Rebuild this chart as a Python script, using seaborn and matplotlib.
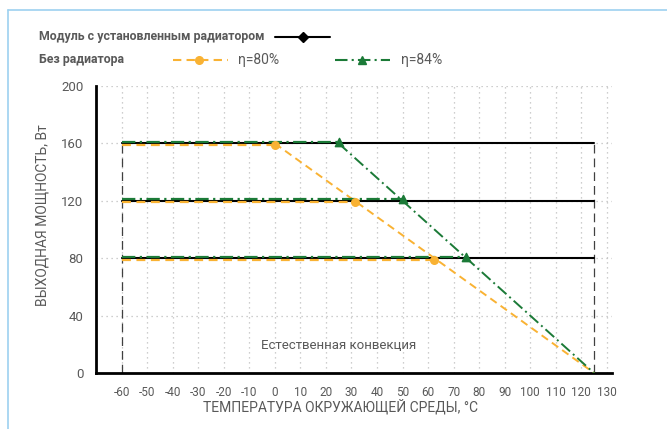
import numpy as np
import pandas as pd
import matplotlib
matplotlib.use('Agg')
import matplotlib.pyplot as plt
import matplotlib.transforms as mtransforms
from matplotlib.lines import Line2D
import seaborn as sns

# power levels, W
levels = [160, 120, 80]
t_min = -60
t_max = 125

# derating start points (temperature, power) without heatsink
eta80_knee = [0, 31.25, 62.5]
eta84_knee = [25, 50, 75]
eta80_line = {'x': [0, 125], 'y': [160, 0]}
eta84_line = {'x': [25, 125], 'y': [160, 0]}

x_ticks = list(range(-60, 131, 10))
y_ticks = [0, 40, 80, 120, 160, 200]

BLACK = '#000000'
ORANGE = '#F9B233'
GREEN = '#1B7A37'
GRAY = '#595959'
GRID = '#BFBFBF'

sns.set_style('white')
plt.rcParams['font.family'] = ['Roboto', 'DejaVu Sans']
plt.rcParams['axes.unicode_minus'] = False

fig = plt.figure(figsize=(6.67, 4.29), dpi=100)
ax = fig.add_axes([0.144, 0.1305, 0.7735, 0.669])

up = mtransforms.offset_copy(ax.transData, fig=fig, x=0, y=1.2, units='points')
down = mtransforms.offset_copy(ax.transData, fig=fig, x=0, y=-1.2, units='points')

# with heatsink
for p in levels:
    sns.lineplot(x=[t_min, t_max], y=[p, p], color=BLACK, lw=1.5, ax=ax,
                 estimator=None, sort=False, zorder=3)

# vertical dashed limits
for t in [t_min, t_max]:
    sns.lineplot(x=[t, t], y=[0, 160], color='#404040', lw=0.9, ax=ax,
                 estimator=None, sort=False, zorder=2)
    ax.lines[-1].set_dashes([7, 4])

# eta = 80%
for p, k in zip(levels, eta80_knee):
    ax.plot([t_min, k], [p, p], color=ORANGE, lw=1.6, dashes=[4, 2.5],
            transform=down, zorder=4)
ax.plot(eta80_line['x'], eta80_line['y'], color=ORANGE, lw=1.4, dashes=[4, 2.5], zorder=4)
ax.scatter(eta80_knee, levels, color=ORANGE, s=30, zorder=6, transform=down)

# eta = 84%
for p, k in zip(levels, eta84_knee):
    ax.plot([t_min, k], [p, p], color=GREEN, lw=1.6, dashes=[6, 2, 1, 2],
            transform=up, zorder=5)
ax.plot(eta84_line['x'], eta84_line['y'], color=GREEN, lw=1.4, dashes=[6, 2, 1, 2], zorder=5)
ax.scatter(eta84_knee, levels, color=GREEN, marker='^', s=36, zorder=7, transform=up)

ax.set_xlim(-70, 132)
ax.set_ylim(0, 200)
ax.set_xticks(x_ticks)
ax.set_yticks(y_ticks)
ax.grid(True, color=GRID, ls=(0, (1, 3)), lw=0.9)
ax.set_axisbelow(True)
for s in ['top', 'right']:
    ax.spines[s].set_visible(False)
for s in ['left', 'bottom']:
    ax.spines[s].set_color(BLACK)
    ax.spines[s].set_linewidth(2)
ax.tick_params(length=0, colors=GRAY, labelsize=8.5)
ax.tick_params(axis='x', pad=9)
ax.tick_params(axis='y', pad=9)
ax.tick_params(axis='y', labelsize=9.5)

ax.set_xlabel('ТЕМПЕРАТУРА ОКРУЖАЮЩЕЙ СРЕДЫ, °С', color=GRAY, fontsize=10, va='center')
ax.xaxis.set_label_coords(0.473, -0.118)
ax.set_ylabel('ВЫХОДНАЯ МОЩНОСТЬ, Вт', color=GRAY, fontsize=10, va='center')
ax.yaxis.set_label_coords(-0.103, 0.55)
ax.text(25, 19, 'Естественная конвекция', ha='center', va='center', color=GRAY, fontsize=9.5)

# legend drawn in figure pixels
W, H = 667, 429
def fx(px):
    return px / W
def fy(py):
    return 1 - py / H

fig.add_artist(Line2D([fx(8), fx(8)], [fy(10), -0.01], color='#9DD1F0', lw=1.2))
fig.add_artist(Line2D([fx(8), 1.02], [fy(10), fy(10)], color='#9DD1F0', lw=1.2))

fig.text(fx(39), fy(36.5), 'Модуль с установленным радиатором', fontsize=8.9,
         fontweight='bold', color=GRAY, va='center')
fig.text(fx(39), fy(60), 'Без радиатора', fontsize=8.9, fontweight='bold', color=GRAY, va='center')

fig.add_artist(Line2D([fx(275), fx(330)], [fy(36.5)] * 2, color=BLACK, lw=1.5))
fig.add_artist(Line2D([fx(303)], [fy(36.5)], color=BLACK, marker='D', ms=5))

fig.add_artist(Line2D([fx(173), fx(228)], [fy(60)] * 2, color=ORANGE, lw=1.5, dashes=[4, 2.5]))
fig.add_artist(Line2D([fx(199)], [fy(60)], color=ORANGE, marker='o', ms=5.5))
fig.text(fx(238), fy(60), 'η=80%', fontsize=10, color=GRAY, va='center')

fig.add_artist(Line2D([fx(335), fx(390)], [fy(60)] * 2, color=GREEN, lw=1.5, dashes=[6, 2, 1, 2]))
fig.add_artist(Line2D([fx(362)], [fy(60)], color=GREEN, marker='^', ms=6))
fig.text(fx(401), fy(60), 'η=84%', fontsize=10, color=GRAY, va='center')

fig.savefig('out.png', dpi=100)
